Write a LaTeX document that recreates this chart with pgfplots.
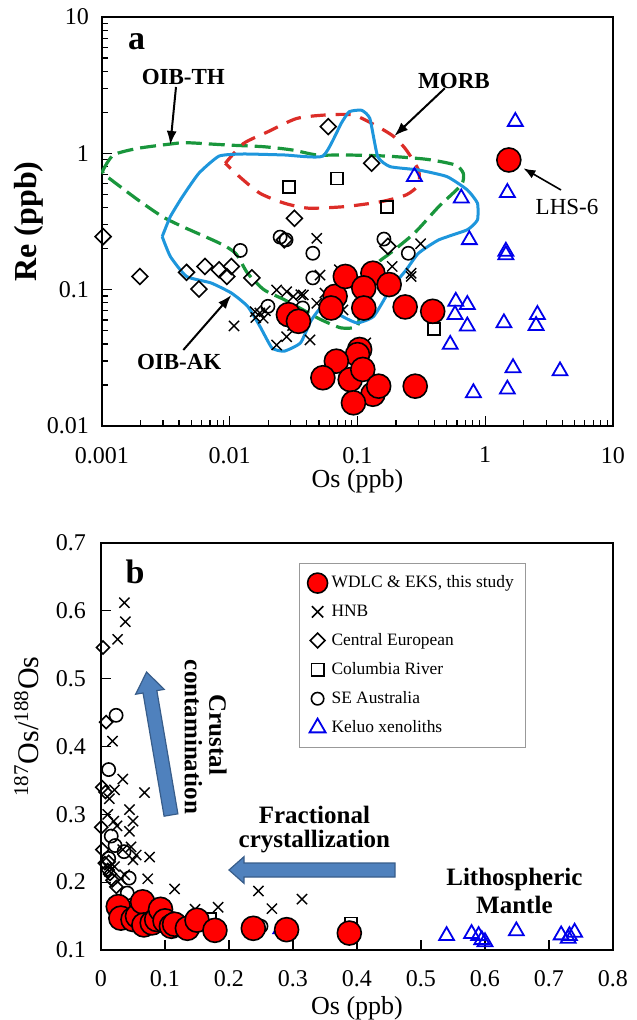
\documentclass[border=0pt]{standalone}
\usepackage{fontspec}
\setmainfont{Liberation Serif}
\usepackage{pgfplots}
\pgfplotsset{compat=1.18}
\usetikzlibrary{arrows.meta}
\definecolor{oibth}{RGB}{25,150,60}
\definecolor{morb}{RGB}{220,45,40}
\definecolor{oibak}{RGB}{30,150,220}
\definecolor{keluo}{RGB}{0,0,235}
\definecolor{arrowfill}{RGB}{79,129,189}
\definecolor{arrowdraw}{RGB}{56,93,138}
\pgfplotsset{
 redpt/.style={only marks, mark=*, mark size=6pt, mark options={fill=red, draw=black, line width=0.8pt}},
 hnb/.style={only marks, mark=x, mark size=3.6pt, mark options={draw=black, line width=0.7pt}},
 ceu/.style={only marks, mark=square, mark size=2.8pt, mark options={draw=black, line width=0.8pt, rotate=45}},
 col/.style={only marks, mark=square, mark size=3pt, mark options={draw=black, line width=0.8pt}},
 sea/.style={only marks, mark=o, mark size=3.3pt, mark options={draw=black, line width=0.8pt}},
 kel/.style={only marks, color=keluo, mark=triangle, mark size=4.3pt, mark options={draw=keluo, line width=0.9pt}},
 myaxis/.style={scale only axis, axis line style={line width=1pt}, tick align=inside, tick pos=left,
   major tick length=5pt, minor tick length=3pt, every tick/.style={black, line width=0.6pt},
   ticklabel style={font=\fontsize{12}{14}\selectfont}, clip=false},
}
\begin{document}
\begin{tikzpicture}
\path[use as bounding box] (0pt,0pt) rectangle (318pt,-510pt);
% ---------------- panel a ----------------
\begin{axis}[myaxis, at={(51pt,-213pt)}, anchor=south west, width=255.5pt, height=204.5pt,
  xmode=log, ymode=log, xmin=0.001, xmax=10, ymin=0.01, ymax=10,
  xtick={0.001,0.01,0.1,1,10}, xticklabels={0.001,0.01,0.1,1,10},
  ytick={0.01,0.1,1,10}, yticklabels={0.01,0.1,1,10},
  minor xtick={0.002,0.003,0.004,0.005,0.006,0.007,0.008,0.009,0.02,0.03,0.04,0.05,0.06,0.07,0.08,0.09,0.2,0.3,0.4,0.5,0.6,0.7,0.8,0.9,2,3,4,5,6,7,8,9},
  minor ytick={0.02,0.03,0.04,0.05,0.06,0.07,0.08,0.09,0.2,0.3,0.4,0.5,0.6,0.7,0.8,0.9,2,3,4,5,6,7,8,9},
  xticklabel style={yshift=-7pt}, yticklabel style={xshift=-3pt},
  xlabel={Os (ppb)}, ylabel={Re (ppb)},
  xlabel style={font=\fontsize{13}{15}\selectfont, at={(axis description cs:0.5,-0.135)}, anchor=center},
  ylabel style={font=\bfseries\fontsize{16}{19}\selectfont, at={(axis description cs:-0.144,0.5)}, anchor=center},
]
\addplot[hnb] coordinates {
(0.0108,0.0542)(0.0158,0.069)(0.0183,0.0617)(0.0172,0.0675)(0.019,0.070)(0.0233,0.0995)(0.0279,0.0967)
(0.0314,0.089)(0.0377,0.0915)(0.0279,0.0452)(0.0233,0.0393)(0.0425,0.0428)(0.048,0.238)(0.0509,0.128)
(0.048,0.0795)(0.0556,0.0945)(0.072,0.14)(0.077,0.071)(0.116,0.0407)(0.187,0.148)(0.312,0.217)
(0.263,0.132)(0.263,0.125)(0.031,0.0546)(0.016,0.0625)(0.036,0.0919)};
\addplot[ceu] coordinates {
(0.00102,0.245)(0.00198,0.125)(0.00459,0.134)(0.0064,0.148)(0.00574,0.101)(0.00826,0.14)(0.0103,0.148)
(0.0095,0.125)(0.0149,0.122)(0.0321,0.334)(0.0267,0.232)(0.059,1.57)(0.129,0.845)(0.173,0.208)};
\addplot[col] coordinates {(0.0292,0.564)(0.0693,0.656)(0.171,0.403)(0.397,0.0515)};
\addplot[sea] coordinates {
(0.0121,0.194)(0.0248,0.243)(0.0276,0.232)(0.0447,0.185)(0.0447,0.122)(0.0199,0.0755)(0.0372,0.0734)
(0.161,0.235)(0.25,0.185)};
\addplot[kel] coordinates {
(1.72,1.71)(0.279,0.675)(0.649,0.469)(1.49,0.515)(0.751,0.232)(1.45,0.191)(1.45,0.18)(0.588,0.082)
(0.724,0.0777)(0.58,0.0656)(0.724,0.054)(0.532,0.0396)(1.40,0.057)(2.56,0.0656)(2.5,0.0545)
(1.65,0.0267)(3.85,0.0253)(0.808,0.0175)(1.49,0.0186)};
\addplot[redpt] coordinates {
(0.0288,0.0656)(0.0345,0.0586)(0.0668,0.0893)(0.0621,0.0734)(0.0803,0.125)(0.132,0.132)(0.112,0.103)
(0.177,0.109)(0.112,0.0734)(0.236,0.0747)(0.388,0.0694)(0.104,0.0364)(0.100,0.0334)(0.0683,0.0299)
(0.0536,0.0226)(0.0877,0.0219)(0.110,0.026)(0.132,0.0171)(0.1465,0.0196)(0.093,0.0148)(0.283,0.0196)
(1.53,0.894)};
% OIB-TH field
\addplot[oibth, line width=1.6pt, dash pattern=on 8pt off 3.5pt, smooth, tension=0.4] coordinates {
(0.00102,0.755)(0.00123,0.973)(0.00191,1.088)(0.00343,1.17)(0.00459,1.197)(0.00957,1.151)(0.0185,1.118)
(0.0309,1.058)(0.0481,0.973)(0.0803,0.973)(0.167,0.955)(0.348,0.904)(0.581,0.822)(0.673,0.714)
(0.649,0.586)(0.433,0.407)(0.279,0.26)(0.18,0.185)(0.144,0.157)(0.116,0.112)(0.104,0.0734)(0.1,0.054)
(0.0746,0.0524)(0.0517,0.0603)(0.0415,0.0675)(0.0267,0.0845)(0.0185,0.1)(0.0138,0.132)(0.0111,0.185)
(0.00826,0.22)(0.00427,0.29)(0.00296,0.344)(0.00191,0.456)(0.00123,0.621)(0.00102,0.714)(0.00102,0.755)};
% MORB field
\addplot[morb, line width=1.6pt, dash pattern=on 7.5pt off 5pt, smooth, tension=0.4] coordinates {
(0.00923,0.845)(0.0128,1.18)(0.0199,1.44)(0.0333,1.80)(0.0556,1.91)(0.093,1.91)(0.144,1.57)(0.194,1.32)
(0.241,1.058)(0.300,0.755)(0.300,0.586)(0.241,0.496)(0.155,0.443)(0.0803,0.407)(0.0415,0.396)
(0.0267,0.431)(0.0172,0.51)(0.0119,0.675)(0.00923,0.845)};
% OIB-AK field
\addplot[oibak, line width=1.5pt, smooth, tension=0.3] coordinates {
(0.00296,0.245)(0.00343,0.344)(0.00427,0.482)(0.00573,0.714)(0.00826,0.955)(0.0128,0.989)(0.0267,0.973)
(0.0536,0.955)(0.0746,1.66)(0.0863,2.02)(0.1076,2.07)(0.125,1.80)(0.144,0.946)(0.18,0.799)(0.300,0.755)
(0.502,0.675)(0.724,0.539)(0.869,0.431)(0.869,0.325)(0.724,0.275)(0.433,0.232)(0.300,0.185)(0.241,0.14)
(0.18,0.1)(0.134,0.0638)(0.1,0.057)(0.0803,0.062)(0.0644,0.0694)(0.0517,0.0734)(0.043,0.0587)
(0.0358,0.0407)(0.0267,0.0354)(0.0214,0.0374)(0.0172,0.054)(0.0138,0.0755)(0.0103,0.0945)
(0.00714,0.112)(0.00459,0.125)(0.00343,0.175)(0.00296,0.245)};
\end{axis}
% ---------------- panel b ----------------
\begin{axis}[myaxis, at={(50.5pt,-475pt)}, anchor=south west, width=256pt, height=203.5pt,
  xmin=0, xmax=0.8, ymin=0.1, ymax=0.7,
  xtick={0,0.1,0.2,0.3,0.4,0.5,0.6,0.7,0.8}, xticklabels={0,0.1,0.2,0.3,0.4,0.5,0.6,0.7,0.8},
  ytick={0.1,0.2,0.3,0.4,0.5,0.6,0.7}, yticklabels={0.1,0.2,0.3,0.4,0.5,0.6,0.7},
  xticklabel style={yshift=-6.5pt}, yticklabel style={xshift=-4pt},
  xlabel={Os (ppb)}, ylabel={\textsuperscript{187}Os/\textsuperscript{188}Os},
  xlabel style={font=\fontsize{13}{15}\selectfont, at={(axis description cs:0.5,-0.142)}, anchor=center},
  ylabel style={font=\fontsize{15}{18}\selectfont, at={(axis description cs:-0.1455,0.549)}, anchor=center},
  legend style={at={(axis description cs:0.3867,0.951)}, anchor=north west, draw=gray!80, line width=0.6pt,
    font=\fontsize{8.7}{10}\selectfont, row sep=3pt, inner xsep=4pt, inner ysep=4pt},
  legend cell align=left,
]
\addlegendimage{only marks, mark=*, mark size=5pt, mark options={fill=red, draw=black, line width=0.8pt}}
\addlegendentry{WDLC \& EKS, this study}
\addlegendimage{only marks, mark=x, mark size=4pt, mark options={draw=black, line width=0.8pt}}
\addlegendentry{HNB}
\addlegendimage{only marks, mark=square, mark size=2.6pt, mark options={draw=black, line width=0.8pt, rotate=45}}
\addlegendentry{Central European}
\addlegendimage{only marks, mark=square, mark size=3.1pt, mark options={draw=black, line width=0.8pt}}
\addlegendentry{Columbia River}
\addlegendimage{only marks, mark=o, mark size=3.1pt, mark options={draw=black, line width=0.8pt}}
\addlegendentry{SE Australia}
\addlegendimage{only marks, color=keluo, mark=triangle, mark size=4.6pt, mark options={draw=keluo, line width=0.9pt}}
\addlegendentry{Keluo xenoliths}
\addplot[hnb, forget plot] coordinates {
(0.0366,0.612)(0.038,0.584)(0.026,0.558)(0.018,0.408)(0.034,0.352)(0.068,0.332)(0.021,0.336)(0.013,0.323)
(0.0445,0.307)(0.0105,0.300)(0.050,0.290)(0.0445,0.275)(0.034,0.248)(0.047,0.252)(0.055,0.240)(0.076,0.237)
(0.050,0.233)(0.021,0.223)(0.013,0.216)(0.037,0.211)(0.073,0.205)(0.115,0.190)(0.031,0.205)(0.246,0.187)
(0.267,0.161)(0.314,0.175)(0.183,0.163)(0.147,0.160)(0.020,0.290)(0.025,0.283)};
\addplot[ceu, mark size=2.3pt, forget plot] coordinates {
(0.003,0.546)(0.008,0.436)(0.002,0.340)(0.007,0.333)(0.0005,0.281)(0.002,0.248)(0.006,0.228)(0.0105,0.218)
(0.014,0.212)(0.018,0.203)(0.024,0.193)(0.012,0.230)};
\addplot[col, forget plot] coordinates {(0.391,0.139)(0.170,0.146)};
\addplot[sea, forget plot] coordinates {
(0.0236,0.446)(0.012,0.366)(0.016,0.268)(0.022,0.254)(0.036,0.245)(0.044,0.206)(0.041,0.184)(0.250,0.135)(0.012,0.235)};
\addplot[kel, forget plot] coordinates {
(0.281,0.131)(0.540,0.121)(0.579,0.124)(0.590,0.121)(0.595,0.115)(0.600,0.112)(0.649,0.128)(0.719,0.122)
(0.730,0.117)(0.732,0.121)(0.740,0.126)};
\addplot[redpt, forget plot] coordinates {
(0.027,0.164)(0.031,0.147)(0.050,0.145)(0.057,0.150)(0.065,0.171)(0.067,0.137)(0.080,0.140)(0.087,0.145)
(0.093,0.160)(0.100,0.143)(0.110,0.135)(0.115,0.138)(0.135,0.132)(0.150,0.144)(0.178,0.129)(0.238,0.132)
(0.290,0.130)(0.388,0.125)};
\end{axis}
% ---------------- annotations (pixel units) ----------------
\begin{scope}[x=0.5pt,y=-0.5pt]
\node[font=\bfseries\fontsize{17}{20}\selectfont] at (136.5,41.7) {a};
\node[font=\bfseries\fontsize{11.5}{14}\selectfont] at (183.3,77.3) {OIB-TH};
\node[font=\bfseries\fontsize{11.5}{14}\selectfont] at (454,80.7) {MORB};
\node[font=\bfseries\fontsize{11.5}{14}\selectfont] at (179.2,361.7) {OIB-AK};
\node[font=\fontsize{11.5}{14}\selectfont] at (567,207.3) {LHS-6};
\draw[line width=1pt, -{Latex[length=7pt,width=5pt]}] (176,87) -- (170.3,145);
\draw[line width=1pt, -{Latex[length=7pt,width=5pt]}] (444.8,88.3) -- (394.3,136);
\draw[line width=1pt, -{Latex[length=7pt,width=5pt]}] (183.3,350) -- (231.4,295);
\draw[line width=0.8pt, -{Latex[length=6pt,width=4.5pt]}] (561,190) -- (523.4,168.3);
% panel b
\node[font=\bfseries\fontsize{17}{20}\selectfont] at (135.2,571.7) {b};
\begin{scope}[shift={(171,815)}, rotate=99.7]
\filldraw[fill=arrowfill, draw=arrowdraw, line width=0.6pt]
 (0,-7) -- (125,-7) -- (125,-14.5) -- (145,0) -- (125,14.5) -- (125,7) -- (0,7) -- cycle;
\end{scope}
\begin{scope}[shift={(395,870)}, rotate=180]
\filldraw[fill=arrowfill, draw=arrowdraw, line width=0.6pt]
 (0,-7) -- (151,-7) -- (151,-13.3) -- (166,0) -- (151,13.3) -- (151,7) -- (0,7) -- cycle;
\end{scope}
\node[font=\bfseries\fontsize{12.5}{15}\selectfont, rotate=-90] at (217.9,735) {Crustal};
\node[font=\bfseries\fontsize{12.5}{15}\selectfont, rotate=-90] at (193.5,737) {contamination};
\node[font=\bfseries\fontsize{12.5}{15}\selectfont] at (314.4,815) {Fractional};
\node[font=\bfseries\fontsize{12.5}{15}\selectfont] at (314.4,841.7) {crystallization};
\node[font=\bfseries\fontsize{12.5}{15}\selectfont] at (514.4,879.3) {Lithospheric};
\node[font=\bfseries\fontsize{12.5}{15}\selectfont] at (514.4,905) {Mantle};
\end{scope}
\end{tikzpicture}
\end{document}
